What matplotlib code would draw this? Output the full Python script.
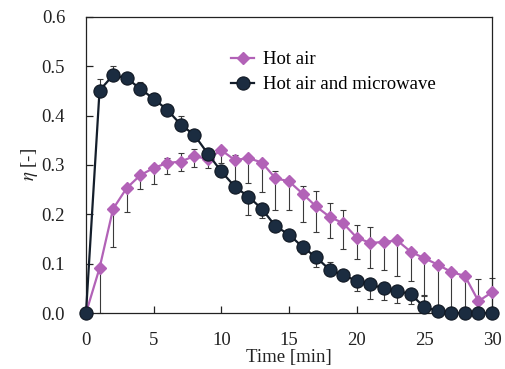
import matplotlib
matplotlib.use("Agg")
import matplotlib.pyplot as plt
import numpy as np

time_min = list(range(0, 31))

hot_air = [0, 0.091, 0.211, 0.253, 0.279, 0.294, 0.304, 0.307, 0.318, 0.312,
           0.330, 0.310, 0.314, 0.305, 0.273, 0.267, 0.242, 0.216, 0.195, 0.182,
           0.153, 0.142, 0.144, 0.147, 0.124, 0.111, 0.098, 0.083, 0.075, 0.024,
           0.042]
hot_air_err_low = [0, 0.091, 0.078, 0.048, 0.027, 0.032, 0.022, 0.019, 0.023, 0.019,
                   0.026, 0.045, 0.050, 0.059, 0.064, 0.058, 0.057, 0.051, 0.043, 0.053,
                   0.043, 0.051, 0.057, 0.073, 0.060, 0.077, 0.098, 0.083, 0.075, 0.024,
                   0.042]
hot_air_err_up = [0, 0, 0, 0, 0, 0, 0.010, 0.017, 0.014, 0.010,
                  0, 0.010, 0, 0, 0.014, 0, 0.016, 0.032, 0.027, 0.027,
                  0.025, 0.033, 0, 0, 0, 0, 0, 0, 0, 0.045,
                  0.028]

hot_air_mw = [0, 0.451, 0.482, 0.476, 0.455, 0.434, 0.412, 0.382, 0.361, 0.323,
              0.287, 0.256, 0.236, 0.211, 0.176, 0.159, 0.134, 0.113, 0.088, 0.077,
              0.065, 0.058, 0.050, 0.045, 0.038, 0.012, 0.004, 0, 0, 0,
              0]
hot_air_mw_err_low = [0, 0, 0, 0, 0, 0, 0, 0, 0, 0,
                      0, 0, 0.037, 0.019, 0, 0, 0.015, 0.019, 0, 0,
                      0.020, 0.030, 0.024, 0.024, 0.020, 0, 0, 0, 0, 0,
                      0]
hot_air_mw_err_up = [0, 0.023, 0.018, 0, 0.014, 0.012, 0, 0.018, 0, 0,
                     0, 0, 0, 0, 0, 0, 0, 0, 0.015, 0,
                     0, 0, 0, 0, 0, 0.025, 0, 0, 0, 0,
                     0]

x_ticks = [0, 5, 10, 15, 20, 25, 30]
y_ticks = [0.0, 0.1, 0.2, 0.3, 0.4, 0.5, 0.6]

plt.rcParams['font.family'] = ['Liberation Serif', 'DejaVu Serif']
plt.rcParams['mathtext.fontset'] = 'stix'

fig = plt.figure(figsize=(5.05, 3.69), dpi=100)
ax = fig.add_axes([86/505, 1-313/369, (492-86)/505, (313-17)/369])

pink = '#B262B7'
navy = '#1B2C40'

ax.errorbar(time_min, hot_air, yerr=[hot_air_err_low, hot_air_err_up], fmt='none',
            ecolor='#3a3a3a', elinewidth=0.8, capsize=2.5, capthick=0.8, zorder=2, clip_on=False)
ax.errorbar(time_min, hot_air_mw, yerr=[hot_air_mw_err_low, hot_air_mw_err_up], fmt='none',
            ecolor='#3a3a3a', elinewidth=0.8, capsize=2.5, capthick=0.8, zorder=2, clip_on=False)

ax.plot(time_min, hot_air, color=pink, lw=1.6, marker='D', markersize=6.5,
        markerfacecolor=pink, markeredgecolor=pink, zorder=3, clip_on=False, label='Hot air')
ax.plot(time_min, hot_air_mw, color='#141E2B', lw=1.6, marker='o', markersize=9.5,
        markerfacecolor=navy, markeredgecolor='#101823', markeredgewidth=0.8,
        zorder=4, clip_on=False, label='Hot air and microwave')

ax.set_xlim(0, 30)
ax.set_ylim(0, 0.6)
ax.set_xticks(x_ticks)
ax.set_yticks(y_ticks)
ax.set_yticklabels([f"{v:.1f}" for v in y_ticks])
ax.tick_params(direction='in', length=5, width=0.9, labelsize=13.5, colors='#222222')
ax.tick_params(axis='x', pad=14)
ax.tick_params(axis='y', pad=15)
for s in ax.spines.values():
    s.set_linewidth(0.9)
    s.set_color('#222222')

ax.set_xlabel('Time [min]', fontsize=13.5, labelpad=0, color='#222222')
ax.set_ylabel(r'$\eta$ [-]', fontsize=13.5, labelpad=1, color='#222222')

leg = ax.legend(loc='upper left', bbox_to_anchor=(231/505, 1-51/369),
                bbox_transform=fig.transFigure, frameon=False, fontsize=13.5,
                handlelength=1.25, handletextpad=0.45, labelspacing=0.42,
                borderpad=0, borderaxespad=0)

fig.savefig('out.png', dpi=100)
